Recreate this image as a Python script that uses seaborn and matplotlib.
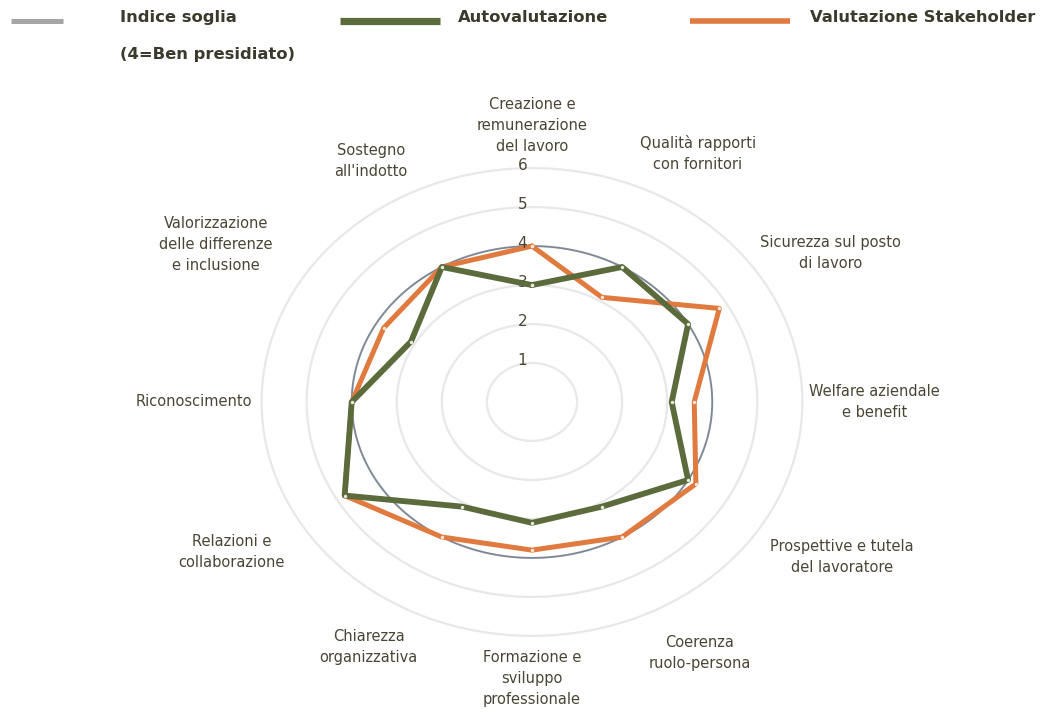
import numpy as np
import pandas as pd
import matplotlib
matplotlib.use('Agg')
import matplotlib.pyplot as plt
import seaborn as sns
from matplotlib.lines import Line2D

# categorie (in senso orario partendo dall'alto)
categorie = [
    'Creazione e\nremunerazione\ndel lavoro',
    'Qualità rapporti\ncon fornitori',
    'Sicurezza sul posto\ndi lavoro',
    'Welfare aziendale\ne benefit',
    'Prospettive e tutela\ndel lavoratore',
    'Coerenza\nruolo-persona',
    'Formazione e\nsviluppo\nprofessionale',
    'Chiarezza\norganizzativa',
    'Relazioni e\ncollaborazione',
    'Riconoscimento',
    'Valorizzazione\ndelle differenze\ne inclusione',
    "Sostegno\nall'indotto",
]
autovalutazione = [3.0, 4.0, 4.0, 3.1, 4.0, 3.1, 3.1, 3.1, 4.8, 4.0, 3.1, 4.0]
stakeholder = [4.0, 3.1, 4.8, 3.6, 4.2, 4.0, 3.8, 4.0, 4.8, 4.0, 3.8, 4.0]
soglia = 4
anelli = [1, 2, 3, 4, 5, 6]

col_auto = '#5b6b3b'
col_stake = '#e07a3e'
col_soglia = '#7d8896'
col_testo = '#4a4535'

sns.set_style('white')
plt.rcParams['font.family'] = ['DejaVu Sans']

n = len(categorie)
theta = np.linspace(0, 2 * np.pi, n, endpoint=False)
# chiusura del poligono a 2*pi (evita l'aggregazione di x duplicate in seaborn)
theta_c = np.append(theta, 2 * np.pi)

df = pd.DataFrame({
    'theta': np.concatenate([theta_c, theta_c]),
    'valore': autovalutazione + autovalutazione[:1] + stakeholder + stakeholder[:1],
    'serie': ['Autovalutazione'] * (n + 1) + ['Valutazione Stakeholder'] * (n + 1),
})

fig = plt.figure(figsize=(10.5, 7.13), dpi=100)
ax = fig.add_axes([0.2457, 0.1038, 0.5219, 0.6648], projection='polar')
ax.set_aspect('auto')
ax.set_theta_zero_location('N')
ax.set_theta_direction(-1)

# soglia
t_fine = np.linspace(0, 2 * np.pi, 400)
ax.plot(t_fine, np.full_like(t_fine, soglia), color=col_soglia, lw=1.3, zorder=2)

sns.lineplot(data=df[df['serie'] == 'Valutazione Stakeholder'], x='theta', y='valore',
             sort=False, estimator=None, ax=ax, color=col_stake, lw=3.6, marker='o',
             markersize=2.5, markerfacecolor='#f4e6d8', markeredgewidth=0, zorder=3)
sns.lineplot(data=df[df['serie'] == 'Autovalutazione'], x='theta', y='valore',
             sort=False, estimator=None, ax=ax, color=col_auto, lw=4.2, marker='o',
             markersize=2.5, markerfacecolor='#e8ecdf', markeredgewidth=0, zorder=4)
if ax.get_legend():
    ax.get_legend().remove()

ax.set_xlabel('')
ax.set_ylabel('')
ax.set_ylim(0, 6.08)
ax.set_xticks(theta)
ax.set_xticklabels([])
ax.xaxis.grid(False)
ax.set_yticks(anelli)
ax.set_yticklabels([])
ax.yaxis.grid(True, color='#e8e8e8', lw=1.6)
ax.spines['polar'].set_visible(False)

for a in anelli:
    ax.annotate(str(a), xy=(0, a), xytext=(-7, 2), textcoords='offset points',
                ha='center', va='center', fontsize=11, color=col_testo)

label_r = [7.1, 7.35, 7.65, 7.6, 7.95, 7.45, 7.1, 7.25, 7.7, 7.5, 8.1, 7.15]
for t, lab, r in zip(theta, categorie, label_r):
    ax.text(t, r, lab, ha='center', va='center', fontsize=10.5, color=col_testo,
            linespacing=1.5, clip_on=False)

# legenda
leg = [
    (0.010, 0.060, '#a5a5a5', 3.6, 'Indice soglia\n(4=Ben presidiato)', 0.114),
    (0.324, 0.419, col_auto, 5.2, 'Autovalutazione', 0.436),
    (0.657, 0.752, col_stake, 4.0, 'Valutazione Stakeholder', 0.771),
]
for x0, x1, c, lw, txt, xt in leg:
    fig.add_artist(Line2D([x0, x1], [0.971, 0.971], color=c, lw=lw,
                          solid_capstyle='butt', transform=fig.transFigure))
    fig.text(xt, 0.986, txt, ha='left', va='top', fontsize=11.8, fontweight='bold',
             color='#3b3a2c', linespacing=2.8)

plt.savefig('out.png', dpi=100)
